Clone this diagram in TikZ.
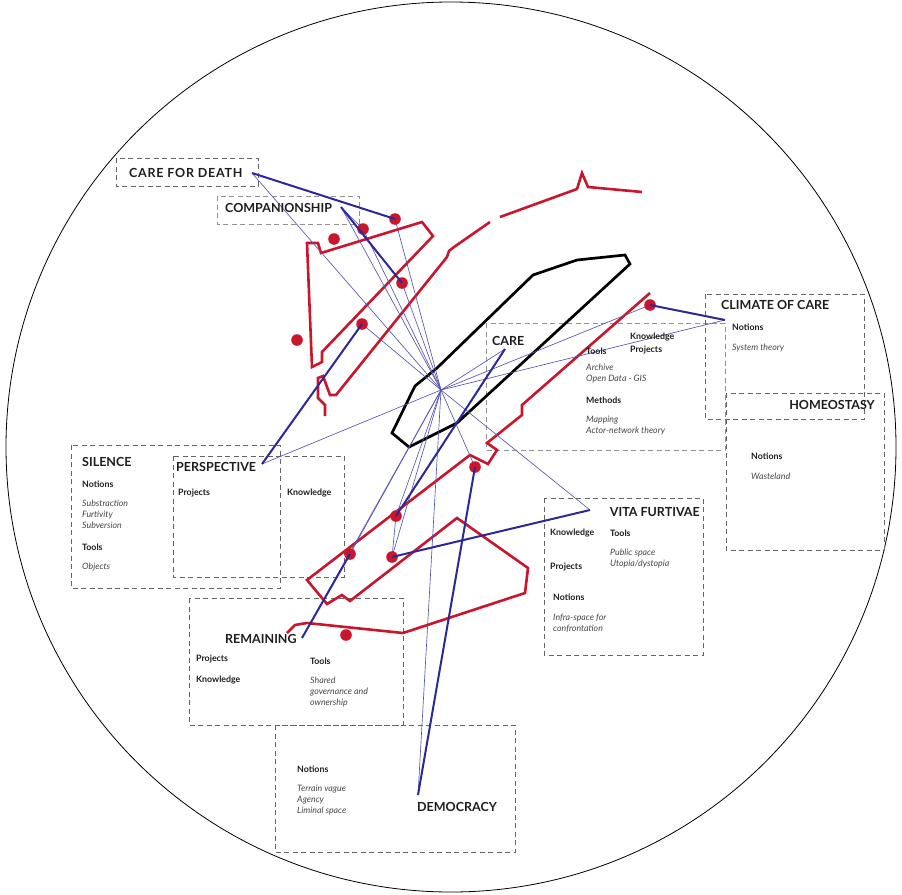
\documentclass[tikz,border=0pt]{standalone}
\usepackage{fontspec}
\setmainfont{Lato}
\definecolor{redc}{RGB}{200,22,45}
\definecolor{bluek}{RGB}{45,40,150}
\definecolor{bluet}{RGB}{85,85,175}
\definecolor{txt}{RGB}{30,30,30}
\definecolor{itx}{RGB}{70,70,70}
\definecolor{boxc}{RGB}{100,100,100}
\tikzset{
  every node/.style={inner sep=0pt, text=txt},
  frame/.style={draw=boxc, line width=1pt, dash pattern=on 5pt off 3.5pt},
  lframe/.style={draw=boxc!70, line width=1pt, dash pattern=on 5pt off 3.5pt},
  ttl/.style={font=\fontsize{12.5}{14}\selectfont\bfseries, anchor=west},
  lbl/.style={font=\fontsize{8.8}{10}\selectfont\bfseries, anchor=west},
  itl/.style={font=\fontsize{8.8}{11}\selectfont\itshape, text=itx, anchor=north west, align=left},
  redl/.style={draw=redc, line width=2.6pt, line join=miter},
  blackl/.style={draw=black, line width=2.7pt, line join=miter},
  thick blue/.style={draw=bluek, line width=2pt},
  thin blue/.style={draw=bluet, line width=0.65pt},
  dot/.style={fill=redc}
}
\begin{document}
\begin{tikzpicture}[x=1pt,y=-1pt]
\useasboundingbox (0,0) rectangle (902,894);
\draw[line width=0.8pt] (451,447) circle [radius=445pt];

% dashed boxes
\draw[frame] (116,158) rectangle (258,186);
\draw[lframe] (217,196) rectangle (359,224);
\draw[lframe] (486,323) rectangle (725,450);
\draw[frame] (705,294) rectangle (864,419);
\draw[frame] (726,393) rectangle (884,550);
\draw[frame] (71,445) rectangle (280,588);
\draw[frame] (173,456) rectangle (344,577);
\draw[frame] (544,498) rectangle (703,655);
\draw[frame] (189,598) rectangle (403,725);
\draw[frame] (275,725) rectangle (515,852);

% black shape
\draw[blackl] (392,433) -- (415,386) -- (437,368) -- (533,275) -- (577,260) -- (625,255) -- (630,264) -- (457,423) -- (409,447) -- cycle;

% red shapes
\draw[redl] (307,243) -- (318,243) -- (321,253) -- (422,222) -- (433,236) -- (322,352) -- (322,362) -- (312,367) -- cycle;
\draw[redl] (325,416) -- (325,405) -- (318,398) -- (318,378) -- (323,376) -- (330,395) -- (336,395) -- (447,257) -- (449,251) -- (454,247) -- (490,222);
\draw[redl] (500,217) -- (577,189) -- (582,173) -- (588,187) -- (642,192);
\draw[redl] (650,293) -- (522,405) -- (522,415) -- (487,443) -- (497,450) -- (488,464) -- (470,455) -- (307,580) -- (327,604) -- (342,595) -- (350,601) -- (457,518) -- (528,568) -- (525,593) -- (403,633) -- (307,623) -- (295,625) -- (287,633);

% hub and dots
\coordinate (hub) at (441,390);
\coordinate (d1) at (395,219);
\coordinate (d2) at (363,229);
\coordinate (d3) at (334,239);
\coordinate (d4) at (402,283);
\coordinate (d5) at (362,324);
\coordinate (d6) at (297,340);
\coordinate (d7) at (650,305);
\coordinate (d8) at (475,467);
\coordinate (d9) at (396,516);
\coordinate (d10) at (350,554);
\coordinate (d11) at (392,557);
\coordinate (d12) at (346,635);

% label end points
\coordinate (cfdE) at (252,173);
\coordinate (compE) at (341,207);
\coordinate (persE) at (262,464);
\coordinate (climE) at (725,320);
\coordinate (careE) at (505,349);
\coordinate (vitaE) at (590,510);
\coordinate (remE) at (302,638);
\coordinate (demE) at (418,795);

% thin connectors
\foreach \t in {cfdE,compE,d1,d2,d4,d5,persE,careE,d7,climE,vitaE,d8,demE,d9,d10,d11,remE}
  \draw[thin blue] (hub) -- (\t);
\draw[thin blue] (compE) -- (d2);
\draw[thin blue] (d11) -- (d9);

% dots
\foreach \d in {d1,d2,d3,d4,d5,d6,d7,d8,d9,d10,d11,d12}
  \fill[dot] (\d) circle [radius=5.8pt];

% thick connectors
\draw[thick blue] (cfdE) -- (d1);
\draw[thick blue] (compE) -- (d4);
\draw[thick blue] (persE) -- (d5);
\draw[thick blue] (climE) -- (d7);
\draw[thick blue] (careE) -- (d9);
\draw[thick blue] (vitaE) -- (d11);
\draw[thick blue] (remE) -- (d10);
\draw[thick blue] (demE) -- (d8);

% titles
\node[ttl] (cfd) at (129,173) {\addfontfeature{LetterSpace=6}CARE FOR DEATH};
\node[ttl] (comp) at (225,208) {COMPANIONSHIP};
\node[ttl] (care) at (492,341) {CARE};
\node[ttl] (clim) at (721,305) {CLIMATE OF CARE};
\node[ttl, anchor=east] (homeo) at (875,405) {HOMEOSTASY};
\node[ttl] (sil) at (82,462) {SILENCE};
\node[ttl] (pers) at (176,467) {PERSPECTIVE};
\node[ttl, anchor=east] (vita) at (700,512) {VITA FURTIVAE};
\node[ttl] (rem) at (225,639) {REMAINING};
\node[ttl] (dem) at (417,807) {DEMOCRACY};

% CARE contents
\node[lbl] (careT) at (586,351) {Tools};
\node[lbl] (careK) at (630,337) {Knowledge};
\node[lbl] (careP) at (630,350) {Projects};
\node[itl] (careA) at (586,364) {Archive\\Open Data - GIS};
\node[lbl] (careM) at (586,400) {Methods};
\node[itl] (careMa) at (586,416) {Mapping\\Actor-network theory};

% CLIMATE contents
\node[lbl] (climN) at (732,327) {Notions};
\node[itl] (climS) at (732,344) {System theory};

% HOMEOSTASY contents
\node[lbl] (homN) at (751,456) {Notions};
\node[itl] (homW) at (751,473) {Wasteland};

% SILENCE contents
\node[lbl] (silN) at (82,484) {Notions};
\node[itl] (silS) at (82,500) {Substraction\\Furtivity\\Subversion};
\node[lbl] (silT) at (82,547) {Tools};
\node[itl] (silO) at (82,563) {Objects};

% PERSPECTIVE contents
\node[lbl] (perP) at (178,493) {Projects};
\node[lbl] (perK) at (287,493) {Knowledge};

% VITA contents
\node[lbl] (vitK) at (550,533) {Knowledge};
\node[lbl] (vitT) at (610,533) {Tools};
\node[itl] (vitPS) at (610,549) {Public space\\Utopia/dystopia};
\node[lbl] (vitP) at (550,567) {Projects};
\node[lbl] (vitN) at (553,597) {Notions};
\node[itl] (vitI) at (553,614) {Infra-space for\\confrontation};

% REMAINING contents
\node[lbl] (remP) at (196,659) {Projects};
\node[lbl] (remK) at (196,680) {Knowledge};
\node[lbl] (remT) at (310,661) {Tools};
\node[itl] (remS) at (310,677) {Shared\\governance and\\ownership};

% DEMOCRACY contents
\node[lbl] (demN) at (297,769) {Notions};
\node[itl] (demT) at (297,785) {Terrain vague\\Agency\\Liminal space};
\end{tikzpicture}
\end{document}
